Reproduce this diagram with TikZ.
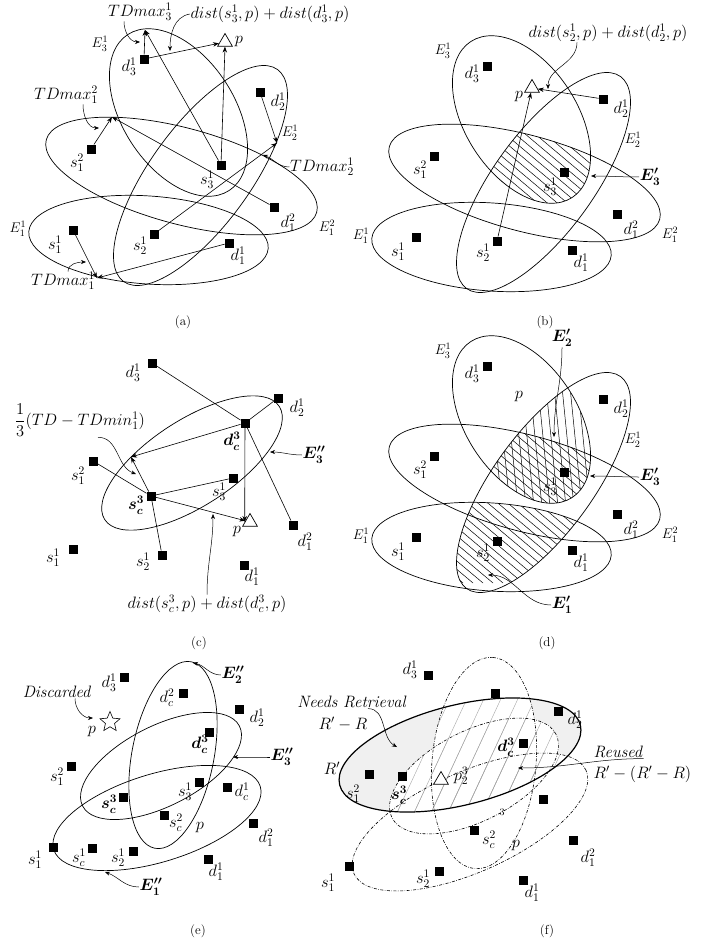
\RequirePackage{fix-cm}
\documentclass[tikz,border=0pt]{standalone}
\usepackage{amsmath,amssymb}
\usepackage{tikz}
\usetikzlibrary{shapes.geometric, arrows.meta, positioning, calc}

\tikzset{
  sq/.style={draw, fill=black, minimum size=8.5pt, inner sep=0pt},
  tri/.style={draw, fill=white, regular polygon, regular polygon sides=3, minimum size=17pt, inner sep=0pt, line width=0.7pt},
  starnode/.style={draw, star, star points=5, star point ratio=2.2, minimum size=21pt, inner sep=0pt, line width=0.6pt},
  lbl/.style={font=\fontsize{16.5}{19}\selectfont, inner sep=0.5pt},
  elbl/.style={font=\fontsize{14}{16}\selectfont, inner sep=0.5pt},
  captxt/.style={font=\fontsize{13}{15}\selectfont},
  bnd/.style={line width=0.7pt},
  arr/.style={line width=0.6pt, -{Stealth[length=6pt, width=4.5pt]}},
  lnk/.style={line width=0.6pt},
  callout/.style={line width=0.5pt, -{Stealth[length=5pt, width=4pt]}},
  hatchln/.style={line width=0.5pt},
  dashdot/.style={line width=0.6pt, dash pattern=on 3pt off 1.5pt on 0.6pt off 1.5pt},
}

% ellipses shared by panels (a), (b), (d)
\newcommand{\pathEthree}[2]{#1[#2, rotate around={-57:(178.5,112.5)}] (178.5,112.5) ellipse (93pt and 56pt);}
\newcommand{\pathEtwo}[2]{#1[#2, rotate around={54:(200.5,175.5)}] (200.5,175.5) ellipse (131pt and 50pt);}
\newcommand{\pathEonetwo}[2]{#1[#2, rotate around={-15:(181.5,176)}] (181.5,176) ellipse (140pt and 48pt);}
\newcommand{\pathEone}[2]{#1[#2, rotate around={-4:(148.5,240)}] (148.5,240) ellipse (120pt and 44pt);}

% ellipses of panel (f)
\newcommand{\pathRp}[2]{#1[#2, rotate around={14:(460,755)}] (460,755) ellipse (124pt and 50pt);}
\newcommand{\pathFvert}[2]{#1[#2, rotate around={85:(484,763)}] (484,763) ellipse (106pt and 52pt);}
\newcommand{\pathFmid}[2]{#1[#2, rotate around={27:(474,776)}] (474,776) ellipse (92pt and 45pt);}
\newcommand{\pathFlow}[2]{#1[#2, rotate around={24:(470,822)}] (470,822) ellipse (127pt and 50pt);}

% ellipses, points and labels common to (a), (b), (d)
\newcommand{\basepanel}[1]{%
  \pathEthree{\draw}{bnd}
  \pathEtwo{\draw}{bnd}
  \pathEonetwo{\draw}{bnd}
  \pathEone{\draw}{bnd}
  \node[sq] (#1-d31) at (144,59) {};
  \node[sq] (#1-s31) at (221,165) {};
  \node[sq] (#1-d21) at (260,92) {};
  \node[sq] (#1-s12) at (91,149) {};
  \node[sq] (#1-d12) at (274,207) {};
  \node[sq] (#1-s11) at (73,230) {};
  \node[sq] (#1-s21) at (154,234) {};
  \node[sq] (#1-d11) at (229,243) {};
  \node[lbl] (#1-ld31) at (129,67) {$d_3^1$};
  \node[lbl] (#1-ls31) at (207,180) {$s_3^1$};
  \node[lbl] (#1-ld21) at (278,102) {$d_2^1$};
  \node[lbl] (#1-ls12) at (77,163) {$s_1^2$};
  \node[lbl] (#1-ld12) at (288,223) {$d_1^2$};
  \node[lbl] (#1-ls11) at (55,245) {$s_1^1$};
  \node[lbl] (#1-ls21) at (140,246) {$s_2^1$};
  \node[lbl] (#1-ld11) at (238,256) {$d_1^1$};
  \node[elbl] (#1-lE31) at (100,44) {$E_3^1$};
  \node[elbl] (#1-lE21) at (290,133) {$E_2^1$};
  \node[elbl] (#1-lE12) at (327,228) {$E_1^2$};
  \node[elbl] (#1-lE11) at (18,229) {$E_1^1$};
}

\begin{document}
\begin{tikzpicture}[x=1pt, y=-1pt]
\useasboundingbox (0,0) rectangle (717,944);

% ---------- (a)
\basepanel{a}
\node[tri] (a-p) at (225,42) {};
\node[lbl] (a-lp) at (239,42) {$p$};
\coordinate (a-t3) at (145,30);
\coordinate (a-t12) at (112,117);
\coordinate (a-t21) at (277,143);
\coordinate (a-t11) at (97,278);
\draw[arr] (a-d31) -- (a-t3);
\draw[arr] (a-s31) -- (a-t3);
\draw[arr] (a-d31) -- (a-p);
\draw[arr] (a-s31) -- (a-p.south);
\draw[arr] (a-s12) -- (a-t12);
\draw[arr] (a-d12) -- (a-t12);
\draw[arr] (a-d21) -- (a-t21);
\draw[arr] (a-s21) -- (a-t21);
\draw[arr] (a-s11) -- (a-t11);
\draw[arr] (a-d11) -- (a-t11);
\node[lbl] (a-lt3) at (140,12) {$TDmax_3^1$};
\node[lbl] (a-ldist) at (270,14) {$dist(s_3^1,p)+dist(d_3^1,p)$};
\node[lbl] (a-lt12) at (66,95) {$TDmax_1^2$};
\node[lbl] (a-lt21) at (322,167) {$TDmax_2^1$};
\node[lbl] (a-lt11) at (63,281) {$TDmax_1^1$};
\coordinate (a-c3) at (140,42);
\coordinate (a-cdist) at (170,51);
\coordinate (a-c12) at (99,128);
\coordinate (a-c21) at (263,155);
\coordinate (a-c11) at (86,262);
\draw[callout] ([xshift=-16pt]a-lt3.south) to[out=-90,in=180] (a-c3);
\draw[callout] (a-ldist.west) to[out=190,in=90] (a-cdist);
\draw[callout] ([xshift=17pt]a-lt12.south) to[out=-90,in=180] (a-c12);
\draw[callout] (a-lt21.west) to[out=180,in=-20] (a-c21);
\draw[callout] ([xshift=5pt]a-lt11.north) to[out=90,in=180] (a-c11);
\node[captxt] (a-cap) at (183,322) {(a)};

% ---------- (b)
\begin{scope}[shift={(343,7)}]
  \begin{scope}
    \pathEthree{\clip}{}
    \pathEtwo{\clip}{}
    \pathEonetwo{\clip}{}
    \foreach \x in {0,10,...,240} \draw[hatchln] (\x,100) -- ++(150,126);
  \end{scope}
  \basepanel{b}
  \node[tri] (b-p) at (189,81) {};
  \node[lbl] (b-lp) at (176,90) {$p$};
  \draw[arr] (b-s21) -- (b-p);
  \draw[arr] (b-d21) -- (b-p);
  \node[lbl] (b-ldist) at (265,26) {$dist(s_2^1,p)+dist(d_2^1,p)$};
  \coordinate (b-cdist) at (205,82);
  \draw[callout] ([xshift=-31pt]b-ldist.south) to[out=-90,in=90] (b-cdist);
  \node[lbl] (b-lE3) at (307,170) {$\boldsymbol{E_3'}$};
  \coordinate (b-cE3) at (248,169);
  \draw[callout] (b-lE3.west) to[out=180,in=0] (b-cE3);
\end{scope}
\node[captxt] (b-cap) at (545,322) {(b)};

% ---------- (c)
\draw[bnd, rotate around={33:(192,463)}] (192,463) ellipse (104pt and 43pt);
\node[sq] (c-d31) at (152,363) {};
\node[sq] (c-d21) at (278,398) {};
\node[sq] (c-dc3) at (245,423) {};
\node[sq] (c-s12) at (93,461) {};
\node[sq] (c-sc3) at (151,496) {};
\node[sq] (c-s31) at (233,478) {};
\node[sq] (c-d12) at (293,525) {};
\node[sq] (c-s11) at (73,549) {};
\node[sq] (c-s21) at (162,555) {};
\node[sq] (c-d11) at (244,565) {};
\node[tri] (c-p) at (250,522) {};
\coordinate (c-t) at (131,457);
\draw[lnk] (c-d31) -- (c-dc3);
\draw[lnk] (c-d21) -- (c-dc3);
\draw[lnk] (c-dc3) -- (c-d12);
\draw[arr] (c-dc3) -- (c-p.west);
\draw[arr] (c-dc3) -- (c-t);
\draw[arr] (c-sc3) -- (c-t);
\draw[lnk] (c-s12) -- (c-sc3);
\draw[lnk] (c-sc3) -- (c-s31);
\draw[lnk] (c-sc3) -- (c-s21);
\draw[arr] (c-sc3) -- (c-p);
\node[lbl] (c-ld31) at (133,373) {$d_3^1$};
\node[lbl] (c-ld21) at (297,408) {$d_2^1$};
\node[lbl] (c-ldc3) at (232,441) {$\boldsymbol{d_c^3}$};
\node[lbl] (c-ls12) at (78,476) {$s_1^2$};
\node[lbl] (c-lsc3) at (136,505) {$\boldsymbol{s_c^3}$};
\node[lbl] (c-ls31) at (219,492) {$s_3^1$};
\node[lbl] (c-lp) at (237,532) {$p$};
\node[lbl] (c-ld12) at (305,542) {$d_1^2$};
\node[lbl] (c-ls11) at (53,558) {$s_1^1$};
\node[lbl] (c-ls21) at (143,562) {$s_2^1$};
\node[lbl] (c-ld11) at (252,577) {$d_1^1$};
\node[lbl] (c-lfrac) at (80,420) {$\dfrac{1}{3}(TD-TDmin_1^1)$};
\node[lbl] (c-ldist) at (207,604) {$dist(s_c^3,p)+dist(d_c^3,p)$};
\node[lbl] (c-lE3) at (314,455) {$\boldsymbol{E_3''}$};
\coordinate (c-cfrac) at (136,474);
\coordinate (c-cdist) at (213,514);
\coordinate (c-cE3) at (270,452);
\draw[callout] ([xshift=18pt]c-lfrac.south) to[out=0,in=160] (c-cfrac);
\draw[callout] (c-ldist.north) to[out=90,in=-90] (c-cdist);
\draw[callout] (c-lE3.west) to[out=180,in=0] (c-cE3);
\node[captxt] (c-cap) at (199,643) {(c)};

% ---------- (d)
\begin{scope}[shift={(343,307)}]
  \begin{scope}
    \pathEthree{\clip}{}
    \pathEtwo{\clip}{}
    \pathEonetwo{\clip}{}
    \foreach \x in {0,10,...,240} \draw[hatchln] (\x,100) -- ++(150,126);
  \end{scope}
  \begin{scope}
    \pathEthree{\clip}{}
    \pathEtwo{\clip}{}
    \foreach \x in {110,118,...,256} \draw[hatchln] (\x,30) -- ++(20,200);
  \end{scope}
  \begin{scope}
    \pathEtwo{\clip}{}
    \pathEone{\clip}{}
    \foreach \x in {-60,-50,...,180} \draw[hatchln] (\x,150) -- ++(150,126);
  \end{scope}
  \basepanel{d}
  \node[lbl] (d-lp) at (176,90) {$p$};
  \node[lbl] (d-lE2) at (219,31) {$\boldsymbol{E_2'}$};
  \node[lbl] (d-lE3) at (307,170) {$\boldsymbol{E_3'}$};
  \node[lbl] (d-lE1) at (219,298) {$\boldsymbol{E_1'}$};
  \coordinate (d-cE2) at (211,130);
  \coordinate (d-cE3) at (247,169);
  \coordinate (d-cE1) at (145,268);
  \draw[callout] (d-lE2.south) to[out=-90,in=90] (d-cE2);
  \draw[callout] (d-lE3.west) to[out=180,in=0] (d-cE3);
  \draw[callout] (d-lE1.west) to[out=180,in=0] (d-cE1);
\end{scope}
\node[captxt] (d-cap) at (547,643) {(d)};

% ---------- (e)
\draw[bnd, rotate around={79:(173,755)}] (173,755) ellipse (95pt and 41pt);
\draw[bnd, rotate around={27:(161,766)}] (161,766) ellipse (88pt and 40pt);
\draw[bnd, rotate around={17:(157,818)}] (157,818) ellipse (108pt and 44pt);
\node[sq] (e-d31) at (124,677) {};
\node[sq] (e-dc2) at (183,693) {};
\node[sq] (e-d21) at (239,709) {};
\node[sq] (e-dc3) at (209,732) {};
\node[sq] (e-s12) at (71,766) {};
\node[sq] (e-s31) at (199,782) {};
\node[sq] (e-dc1) at (227,787) {};
\node[sq] (e-sc3) at (123,797) {};
\node[sq] (e-sc2) at (164,815) {};
\node[sq] (e-d12) at (253,823) {};
\node[sq] (e-s11) at (53,847) {};
\node[sq] (e-sc1) at (92,848) {};
\node[sq] (e-s21) at (133,851) {};
\node[sq] (e-d11) at (208,859) {};
\node[starnode] (e-p) at (110,722) {};
\node[lbl] (e-lp) at (92,732) {$p$};
\node[lbl] (e-ld31) at (109,683) {$d_3^1$};
\node[lbl] (e-ldc2) at (167,698) {$d_c^2$};
\node[lbl] (e-ld21) at (257,718) {$d_2^1$};
\node[lbl] (e-ldc3) at (200,744) {$\boldsymbol{d_c^3}$};
\node[lbl] (e-ls12) at (57,777) {$s_1^2$};
\node[lbl] (e-ls31) at (185,792) {$s_3^1$};
\node[lbl] (e-ldc1) at (242,792) {$d_c^1$};
\node[lbl] (e-lsc3) at (109,804) {$\boldsymbol{s_c^3}$};
\node[lbl] (e-lsc2) at (176,823) {$s_c^2$};
\node[lbl] (e-lp2) at (200,828) {$p$};
\node[lbl] (e-ld12) at (266,838) {$d_1^2$};
\node[lbl] (e-ls11) at (35,860) {$s_1^1$};
\node[lbl] (e-lsc1) at (79,858) {$s_c^1$};
\node[lbl] (e-ls21) at (118,858) {$s_2^1$};
\node[lbl] (e-ld11) at (216,872) {$d_1^1$};
\node[lbl] (e-ldisc) at (57,692) {\textit{Discarded}};
\node[lbl] (e-lE2) at (233,675) {$\boldsymbol{E_2''}$};
\node[lbl] (e-lE3) at (282,757) {$\boldsymbol{E_3''}$};
\node[lbl] (e-lE1) at (151,887) {$\boldsymbol{E_1''}$};
\coordinate (e-cdisc) at (93,718);
\coordinate (e-cE2) at (193,663);
\coordinate (e-cE3) at (233,757);
\coordinate (e-cE1) at (105,872);
\draw[callout] ([xshift=18pt]e-ldisc.south) to[out=-90,in=180] (e-cdisc);
\draw[callout] (e-lE2.west) to[out=180,in=-10] (e-cE2);
\draw[callout] (e-lE3.west) to[out=180,in=0] (e-cE3);
\draw[callout] (e-lE1.west) to[out=180,in=-20] (e-cE1);
\node[captxt] (e-cap) at (198,931) {(e)};

% ---------- (f)
\pathRp{\fill}{gray!12}
\begin{scope}
  \pathRp{\clip}{}
  \pathFvert{\fill}{white}
  \pathFmid{\fill}{white}
  \pathFlow{\fill}{white}
\end{scope}
\foreach \E in {\pathFvert,\pathFmid,\pathFlow}{
  \begin{scope}
    \pathRp{\clip}{}
    \E{\clip}{}
    \foreach \x in {270,287,...,600} \draw[gray!70, line width=0.4pt] (\x,830) -- ++(65,-140);
  \end{scope}
}
\pathFvert{\draw}{dashdot}
\pathFmid{\draw}{dashdot}
\pathFlow{\draw}{dashdot}
\pathRp{\draw}{line width=1.2pt}
\node[sq] (f-d31) at (428,675) {};
\node[sq] (f-dc2) at (495,693) {};
\node[sq] (f-d21) at (558,711) {};
\node[sq] (f-dc3) at (523,743) {};
\node[sq] (f-sc3) at (402,776) {};
\node[sq] (f-s12) at (369,774) {};
\node[sq] (f-dc1) at (543,799) {};
\node[sq] (f-sc2) at (474,830) {};
\node[sq] (f-d12) at (573,840) {};
\node[sq] (f-s21) at (439,871) {};
\node[sq] (f-d11) at (523,880) {};
\node[sq] (f-s11) at (349,866) {};
\node[tri] (f-p) at (441,780) {};
\node[lbl] (f-ld31) at (410,670) {$d_3^1$};
\node[lbl] (f-ld21) at (575,720) {$d_2^1$};
\node[lbl] (f-ldc3) at (506,747) {$\boldsymbol{d_c^3}$};
\node[lbl] (f-lp) at (461,776) {$p_2^3$};
\node[lbl] (f-lsc3) at (399,795) {$\boldsymbol{s_c^3}$};
\node[lbl] (f-ls12) at (353,794) {$s_1^2$};
\node[lbl] (f-lR) at (332,768) {$R'$};
\node[inner sep=0pt, font=\fontsize{10}{12}\selectfont] (f-l3) at (502,812) {3};
\node[lbl] (f-lsc2) at (489,840) {$s_c^2$};
\node[lbl] (f-lp2) at (516,846) {$p$};
\node[lbl] (f-ld12) at (588,858) {$d_1^2$};
\node[lbl] (f-ls21) at (423,879) {$s_2^1$};
\node[lbl] (f-ld11) at (532,893) {$d_1^1$};
\node[lbl] (f-ls11) at (328,883) {$s_1^1$};
\node[lbl] (f-lnr) at (352,702) {\textit{Needs Retrieval}};
\node[lbl] (f-lnr2) at (343,724) {$R'-R$};
\node[lbl, anchor=west] (f-lreu) at (593,752) {\textit{Reused}};
\node[lbl, anchor=west] (f-lreu2) at (593,774) {$R'-(R'-R)$};
\coordinate (f-cnr) at (397,747);
\coordinate (f-creu) at (518,768);
\draw[callout] ([xshift=16pt]f-lnr.south) to[out=0,in=150] (f-cnr);
\draw[callout] (f-lreu.south east) to[out=180,in=0] (f-creu);
\node[captxt] (f-cap) at (547,931) {(f)};
\end{tikzpicture}
\end{document}
